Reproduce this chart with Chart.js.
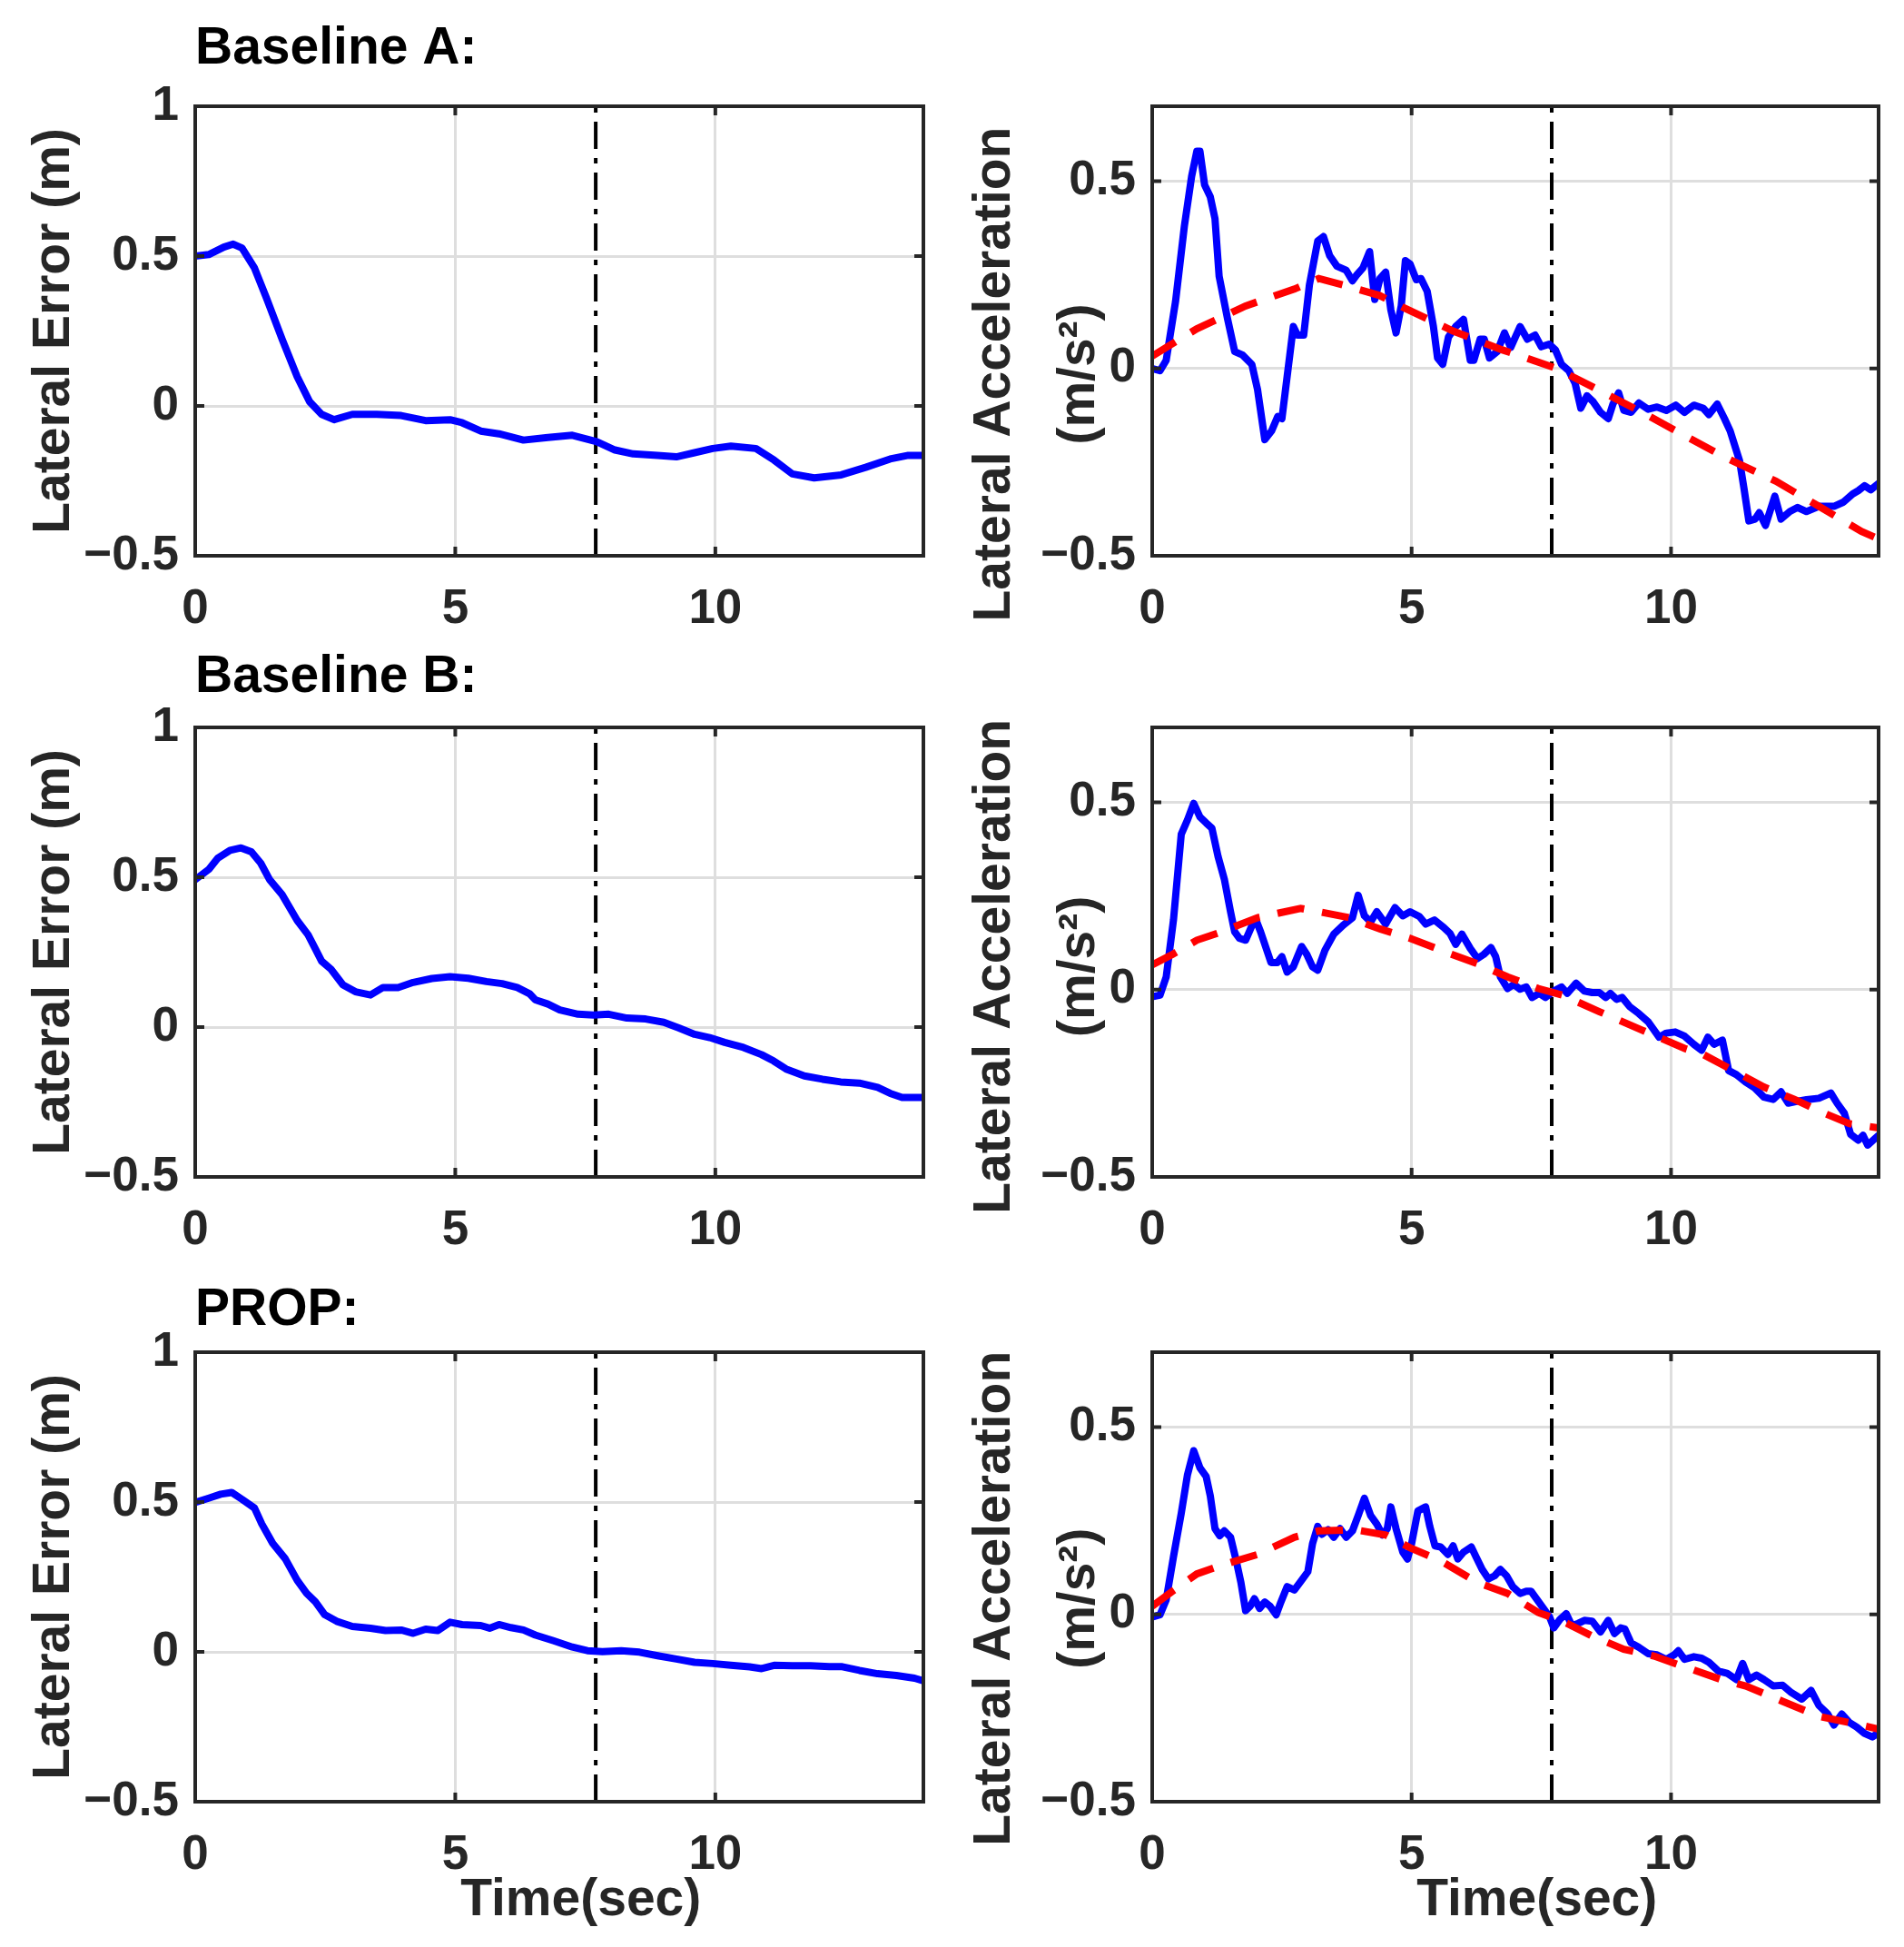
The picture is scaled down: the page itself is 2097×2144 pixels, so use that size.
<!DOCTYPE html>
<html>
<head>
<meta charset="utf-8">
<script src="https://cdn.jsdelivr.net/npm/chart.js@4.4.1/dist/chart.umd.min.js"></script>
<style>
body { margin: 0; background: #fff; width: 2097px; height: 2144px; position: relative; overflow: hidden; }
canvas { position: absolute; }
</style>
</head>
<body>
<script>
// ticks shared by the panels
const xTicks = [0, 5, 10];
const errTicks = [-0.5, 0, 0.5, 1];
const accTicks = [-0.5, 0, 0.5];
const cueTime = 7.7; // dash-dot marker

// [time, value] pairs
const errA = [[0,0.5],[0.26,0.505],[0.55,0.53],[0.73,0.54],[0.9,0.527],[1.14,0.46],[1.37,0.36],[1.67,0.223],[1.96,0.098],[2.2,0.014],[2.43,-0.028],[2.67,-0.046],[3.02,-0.028],[3.49,-0.028],[3.96,-0.032],[4.43,-0.049],[4.9,-0.046],[5.13,-0.056],[5.49,-0.084],[5.84,-0.093],[6.31,-0.114],[6.78,-0.105],[7.25,-0.098],[7.72,-0.119],[8.07,-0.147],[8.42,-0.16],[8.89,-0.165],[9.25,-0.17],[9.6,-0.156],[9.95,-0.142],[10.3,-0.134],[10.78,-0.142],[11.13,-0.181],[11.48,-0.227],[11.9,-0.24],[12.42,-0.23],[12.89,-0.205],[13.36,-0.177],[13.71,-0.165],[14,-0.165]];

const accA = [[0,0],[0.15,-0.006],[0.27,0.022],[0.45,0.179],[0.62,0.38],[0.76,0.513],[0.86,0.58],[0.92,0.58],[1.01,0.49],[1.12,0.458],[1.21,0.4],[1.29,0.246],[1.45,0.134],[1.59,0.045],[1.74,0.036],[1.92,0.011],[2.03,-0.056],[2.17,-0.19],[2.3,-0.167],[2.42,-0.128],[2.5,-0.134],[2.62,0],[2.72,0.112],[2.8,0.089],[2.92,0.089],[3.03,0.223],[3.19,0.34],[3.3,0.352],[3.42,0.301],[3.56,0.273],[3.74,0.262],[3.86,0.234],[3.95,0.251],[4.06,0.268],[4.19,0.312],[4.29,0.184],[4.39,0.24],[4.5,0.257],[4.6,0.156],[4.7,0.095],[4.8,0.167],[4.88,0.288],[4.97,0.279],[5.09,0.237],[5.18,0.24],[5.3,0.206],[5.42,0.112],[5.5,0.028],[5.6,0.011],[5.71,0.084],[5.85,0.112],[6.0,0.131],[6.13,0.022],[6.2,0.022],[6.32,0.078],[6.4,0.078],[6.5,0.028],[6.65,0.045],[6.79,0.095],[6.91,0.056],[7.09,0.112],[7.23,0.078],[7.38,0.089],[7.5,0.058],[7.65,0.065],[7.77,0.05],[7.89,0.011],[8.03,-0.006],[8.15,-0.039],[8.26,-0.106],[8.38,-0.073],[8.5,-0.089],[8.64,-0.117],[8.79,-0.134],[8.88,-0.095],[8.99,-0.065],[9.09,-0.112],[9.23,-0.117],[9.38,-0.092],[9.56,-0.109],[9.73,-0.103],[9.91,-0.112],[10.09,-0.098],[10.26,-0.117],[10.44,-0.098],[10.62,-0.106],[10.73,-0.123],[10.89,-0.095],[11.03,-0.134],[11.14,-0.167],[11.32,-0.246],[11.41,-0.324],[11.5,-0.407],[11.62,-0.402],[11.7,-0.385],[11.82,-0.419],[12.0,-0.341],[12.12,-0.402],[12.29,-0.382],[12.44,-0.371],[12.61,-0.382],[12.85,-0.368],[13.14,-0.368],[13.32,-0.357],[13.5,-0.335],[13.61,-0.326],[13.73,-0.313],[13.85,-0.324],[14,-0.307]];

const refA = [[0,0.033],[0.86,0.106],[1.8,0.167],[2.74,0.212],[3.21,0.24],[3.68,0.223],[4.38,0.195],[4.85,0.162],[5.8,0.1],[6.74,0.05],[7.21,0.028],[7.79,0],[8.5,-0.05],[9.44,-0.117],[10.26,-0.179],[11.08,-0.24],[12.02,-0.301],[12.85,-0.368],[13.67,-0.435],[14,-0.455]];

const errB = [[0,0.492],[0.26,0.526],[0.43,0.563],[0.67,0.59],[0.88,0.598],[1.08,0.585],[1.26,0.547],[1.43,0.492],[1.67,0.442],[1.96,0.356],[2.17,0.308],[2.31,0.261],[2.43,0.22],[2.61,0.193],[2.84,0.141],[3.08,0.118],[3.37,0.107],[3.61,0.132],[3.9,0.132],[4.19,0.149],[4.55,0.162],[4.9,0.168],[5.25,0.163],[5.6,0.152],[5.9,0.145],[6.19,0.132],[6.43,0.111],[6.54,0.091],[6.78,0.077],[7.01,0.057],[7.36,0.043],[7.66,0.04],[7.95,0.043],[8.3,0.03],[8.66,0.027],[9.01,0.016],[9.3,-0.003],[9.6,-0.024],[9.89,-0.035],[10.18,-0.051],[10.54,-0.068],[10.89,-0.092],[11.12,-0.113],[11.36,-0.14],[11.71,-0.163],[12.06,-0.174],[12.41,-0.183],[12.77,-0.187],[13.12,-0.201],[13.36,-0.221],[13.59,-0.235],[14,-0.235]];

const accB = [[0,-0.019],[0.15,-0.015],[0.27,0.034],[0.41,0.186],[0.56,0.415],[0.68,0.453],[0.8,0.497],[0.92,0.461],[1.04,0.445],[1.15,0.431],[1.27,0.355],[1.39,0.295],[1.51,0.208],[1.59,0.154],[1.68,0.137],[1.8,0.132],[1.92,0.17],[2.0,0.186],[2.09,0.154],[2.21,0.105],[2.29,0.072],[2.41,0.072],[2.5,0.088],[2.6,0.047],[2.72,0.061],[2.88,0.115],[2.98,0.094],[3.09,0.061],[3.19,0.052],[3.33,0.105],[3.5,0.148],[3.68,0.172],[3.86,0.192],[3.97,0.252],[4.09,0.197],[4.21,0.181],[4.33,0.208],[4.5,0.175],[4.68,0.219],[4.83,0.197],[4.97,0.208],[5.15,0.195],[5.27,0.175],[5.44,0.186],[5.62,0.166],[5.74,0.15],[5.85,0.121],[5.97,0.148],[6.13,0.11],[6.27,0.083],[6.39,0.094],[6.53,0.112],[6.62,0.088],[6.71,0.034],[6.85,0.003],[6.97,0.014],[7.09,0.001],[7.21,0.007],[7.32,-0.021],[7.46,-0.01],[7.58,-0.021],[7.74,-0.004],[7.89,0.007],[8.0,-0.01],[8.17,0.017],[8.33,-0.004],[8.48,-0.008],[8.62,-0.008],[8.74,-0.021],[8.83,-0.01],[8.95,-0.026],[9.06,-0.021],[9.2,-0.045],[9.38,-0.064],[9.56,-0.086],[9.77,-0.127],[9.91,-0.116],[10.08,-0.113],[10.26,-0.124],[10.44,-0.146],[10.59,-0.162],[10.71,-0.127],[10.83,-0.146],[10.99,-0.135],[11.11,-0.216],[11.26,-0.227],[11.44,-0.247],[11.61,-0.262],[11.79,-0.287],[11.97,-0.293],[12.12,-0.273],[12.26,-0.303],[12.44,-0.298],[12.61,-0.294],[12.85,-0.29],[13.08,-0.276],[13.2,-0.303],[13.34,-0.33],[13.46,-0.386],[13.61,-0.402],[13.7,-0.389],[13.79,-0.415],[14,-0.389]];

const refB = [[0,0.066],[0.39,0.094],[0.86,0.132],[1.33,0.154],[2.03,0.192],[2.86,0.217],[3.21,0.208],[3.8,0.192],[4.39,0.162],[4.97,0.137],[5.68,0.099],[6.27,0.069],[6.85,0.034],[7.44,0.003],[7.91,-0.015],[8.62,-0.059],[9.44,-0.108],[10.26,-0.157],[10.62,-0.173],[11.2,-0.216],[11.79,-0.26],[12.38,-0.293],[12.97,-0.331],[13.44,-0.358],[14,-0.369]];

const errP = [[0,0.499],[0.26,0.513],[0.49,0.526],[0.7,0.532],[0.9,0.509],[1.14,0.48],[1.28,0.427],[1.49,0.362],[1.73,0.311],[1.96,0.239],[2.14,0.196],[2.31,0.167],[2.49,0.124],[2.72,0.102],[3.02,0.085],[3.37,0.079],[3.66,0.071],[3.96,0.073],[4.19,0.062],[4.43,0.076],[4.66,0.071],[4.9,0.099],[5.13,0.091],[5.49,0.088],[5.66,0.079],[5.84,0.091],[6.07,0.081],[6.31,0.073],[6.54,0.056],[6.89,0.037],[7.25,0.016],[7.54,0.004],[7.83,0.001],[8.19,0.004],[8.54,-0.001],[8.89,-0.013],[9.25,-0.024],[9.6,-0.035],[9.95,-0.039],[10.3,-0.045],[10.66,-0.05],[10.89,-0.056],[11.13,-0.045],[11.48,-0.046],[11.83,-0.046],[12.19,-0.049],[12.42,-0.049],[12.77,-0.062],[13.12,-0.073],[13.48,-0.079],[13.83,-0.088],[14,-0.097]];

const accP = [[0,-0.007],[0.15,-0.001],[0.27,0.039],[0.41,0.154],[0.56,0.27],[0.68,0.373],[0.8,0.437],[0.92,0.391],[1.04,0.368],[1.12,0.316],[1.21,0.229],[1.3,0.21],[1.39,0.223],[1.51,0.206],[1.62,0.143],[1.71,0.085],[1.8,0.01],[1.89,0.022],[1.97,0.042],[2.07,0.016],[2.17,0.033],[2.27,0.022],[2.39,-0.001],[2.48,0.033],[2.6,0.074],[2.74,0.065],[2.88,0.091],[3.0,0.114],[3.09,0.189],[3.19,0.235],[3.27,0.214],[3.39,0.226],[3.5,0.206],[3.62,0.229],[3.74,0.206],[3.86,0.223],[3.97,0.264],[4.09,0.31],[4.21,0.264],[4.33,0.241],[4.44,0.212],[4.53,0.229],[4.6,0.287],[4.7,0.229],[4.83,0.166],[4.92,0.148],[5.0,0.189],[5.12,0.276],[5.27,0.287],[5.35,0.235],[5.45,0.183],[5.56,0.18],[5.7,0.16],[5.8,0.183],[5.89,0.148],[6.0,0.166],[6.15,0.18],[6.24,0.154],[6.36,0.12],[6.48,0.095],[6.6,0.103],[6.71,0.12],[6.83,0.103],[6.95,0.074],[7.09,0.056],[7.21,0.062],[7.3,0.062],[7.42,0.039],[7.54,0.016],[7.66,-0.007],[7.74,-0.036],[7.86,-0.013],[7.98,0.002],[8.09,-0.03],[8.21,-0.024],[8.33,-0.016],[8.48,-0.018],[8.64,-0.047],[8.79,-0.016],[8.91,-0.051],[9.03,-0.036],[9.11,-0.039],[9.23,-0.076],[9.38,-0.088],[9.56,-0.105],[9.73,-0.108],[9.91,-0.12],[10.06,-0.108],[10.14,-0.097],[10.26,-0.12],[10.44,-0.113],[10.59,-0.117],[10.73,-0.128],[10.91,-0.151],[11.08,-0.157],[11.26,-0.174],[11.38,-0.131],[11.5,-0.174],[11.65,-0.162],[11.79,-0.174],[11.97,-0.191],[12.15,-0.189],[12.32,-0.209],[12.52,-0.226],[12.7,-0.203],[12.85,-0.243],[13.02,-0.266],[13.14,-0.295],[13.29,-0.266],[13.44,-0.289],[13.58,-0.301],[13.73,-0.318],[13.88,-0.327],[14,-0.316]];

const refP = [[0,0.022],[0.39,0.062],[0.86,0.108],[1.33,0.131],[2.03,0.16],[2.74,0.206],[3.21,0.223],[3.91,0.226],[4.5,0.212],[4.97,0.178],[5.56,0.143],[6.27,0.085],[6.85,0.056],[7.44,0.005],[7.91,-0.018],[8.5,-0.059],[9.09,-0.093],[9.67,-0.111],[10.26,-0.14],[10.97,-0.174],[11.44,-0.191],[12.15,-0.232],[12.85,-0.272],[13.44,-0.289],[14,-0.306]];

const FONT = '"Liberation Sans", Arial, sans-serif';
const AXIS = '#262626';

// page layout of the 3x2 grid, in px
const rows = [
  { top: 20,   pad: 29, xH: 100, title: 'Baseline A:', yShift: 6 },
  { top: 712,  pad: 21, xH: 100, title: 'Baseline B:', yShift: 2 },
  { top: 1409, pad: 12, xH: 143, title: 'PROP:',       yShift: 3 }
];
const cols = [
  { x: 0,    w: 1050, yW: 215, padR: 33 },
  { x: 1050, w: 1047, yW: 219, padR: 28 }
];
const PLOT_H = 495;
const TITLE_LH = 68;

function fmt(v) {
  return v < 0 ? '\u2212' + Math.abs(v) : String(v);
}

function toPoints(pairs) {
  return pairs.map(p => ({ x: p[0], y: p[1] }));
}

// MATLAB style box with inward ticks on all four sides
const boxPlugin = {
  id: 'matlabBox',
  afterDatasetsDraw(chart) {
    const { ctx, chartArea: a, scales } = chart;
    ctx.save();
    ctx.strokeStyle = AXIS;
    ctx.lineWidth = 4;
    ctx.beginPath();
    scales.x.ticks.forEach(t => {
      const px = scales.x.getPixelForValue(t.value);
      ctx.moveTo(px, a.bottom); ctx.lineTo(px, a.bottom - 10);
      ctx.moveTo(px, a.top); ctx.lineTo(px, a.top + 10);
    });
    scales.y.ticks.forEach(t => {
      const py = scales.y.getPixelForValue(t.value);
      ctx.moveTo(a.left, py); ctx.lineTo(a.left + 10, py);
      ctx.moveTo(a.right, py); ctx.lineTo(a.right - 10, py);
    });
    ctx.stroke();
    ctx.strokeRect(a.left, a.top, a.right - a.left, a.bottom - a.top);
    ctx.restore();
  }
};

function panel(r, c, yMin, yMax, yTicks, yTitle, blue, red) {
  const row = rows[r], col = cols[c];
  const canvas = document.createElement('canvas');
  canvas.width = col.w;
  canvas.height = TITLE_LH + row.pad + PLOT_H + row.xH;
  canvas.style.left = col.x + 'px';
  canvas.style.top = row.top + 'px';
  document.body.appendChild(canvas);

  const datasets = [
    { data: toPoints(blue), borderColor: '#0000ff', borderWidth: 8, order: 1,
      borderJoinStyle: 'round', borderCapStyle: 'round' },
    { data: [{ x: cueTime, y: yMin }, { x: cueTime, y: yMax }], borderColor: '#000',
      borderWidth: 4, borderDash: [30, 10, 6, 10], order: 2 }
  ];
  if (red) {
    datasets.push({ data: toPoints(red), borderColor: '#ff0000', borderWidth: 8,
      borderDash: [30, 20], order: 0 });
  }

  const isLast = r === rows.length - 1;
  new Chart(canvas, {
    type: 'line',
    data: { datasets },
    options: {
      responsive: false,
      animation: false,
      devicePixelRatio: 1,
      elements: { point: { radius: 0 }, line: { tension: 0, fill: false } },
      layout: { padding: { left: 0, right: col.padR, top: c === 0 ? 0 : TITLE_LH + row.pad, bottom: 0 } },
      plugins: {
        legend: { display: false },
        tooltip: { enabled: false },
        title: {
          display: c === 0,
          text: row.title,
          align: 'start',
          fullSize: false,
          color: '#000',
          font: { family: FONT, size: 57, weight: 'bold', lineHeight: TITLE_LH + 'px' },
          padding: { top: 0, bottom: row.pad }
        }
      },
      scales: {
        x: {
          type: 'linear', min: 0, max: 14,
          afterBuildTicks: axis => { axis.ticks = xTicks.map(v => ({ value: v })); },
          afterFit: scale => { scale.height = row.xH; },
          grid: { color: '#dedede', lineWidth: 3, drawTicks: false },
          border: { display: false },
          ticks: { padding: 28, color: AXIS, font: { family: FONT, size: 53, weight: 'bold' }, callback: fmt },
          title: {
            display: isLast,
            // leading spaces nudge the label right as in the original
            text: '   Time(sec)',
            color: AXIS,
            font: { family: FONT, size: 57, weight: 'bold', lineHeight: '68px' },
            padding: { top: 0, bottom: 0 }
          }
        },
        y: {
          type: 'linear', min: yMin, max: yMax,
          afterBuildTicks: axis => { axis.ticks = yTicks.map(v => ({ value: v })); },
          afterFit: scale => { scale.width = col.yW; },
          grid: { color: '#dedede', lineWidth: 3, drawTicks: false },
          border: { display: false },
          ticks: { padding: 18, color: AXIS, font: { family: FONT, size: 53, weight: 'bold' }, callback: fmt },
          title: {
            display: true,
            text: yTitle,
            color: AXIS,
            font: { family: FONT, size: 57, weight: 'bold', lineHeight: c === 0 ? '68px' : '93px' },
            padding: { top: c === 0 ? 26 : 0, bottom: 0 }
          }
        }
      }
    },
    plugins: [boxPlugin]
  });
}

function accTitle(r) {
  // trailing spaces push the two-line label down a little, as in the figure
  const tail = ' '.repeat(rows[r].yShift);
  return ['Lateral Acceleration' + tail, '(m/s\u00b2)' + tail];
}

panel(0, 0, -0.5, 1, errTicks, 'Lateral Error (m)', errA);
panel(0, 1, -0.5, 0.7, accTicks, accTitle(0), accA, refA);
panel(1, 0, -0.5, 1, errTicks, 'Lateral Error (m)', errB);
panel(1, 1, -0.5, 0.7, accTicks, accTitle(1), accB, refB);
panel(2, 0, -0.5, 1, errTicks, 'Lateral Error (m)', errP);
panel(2, 1, -0.5, 0.7, accTicks, accTitle(2), accP, refP);
</script>
</body>
</html>
